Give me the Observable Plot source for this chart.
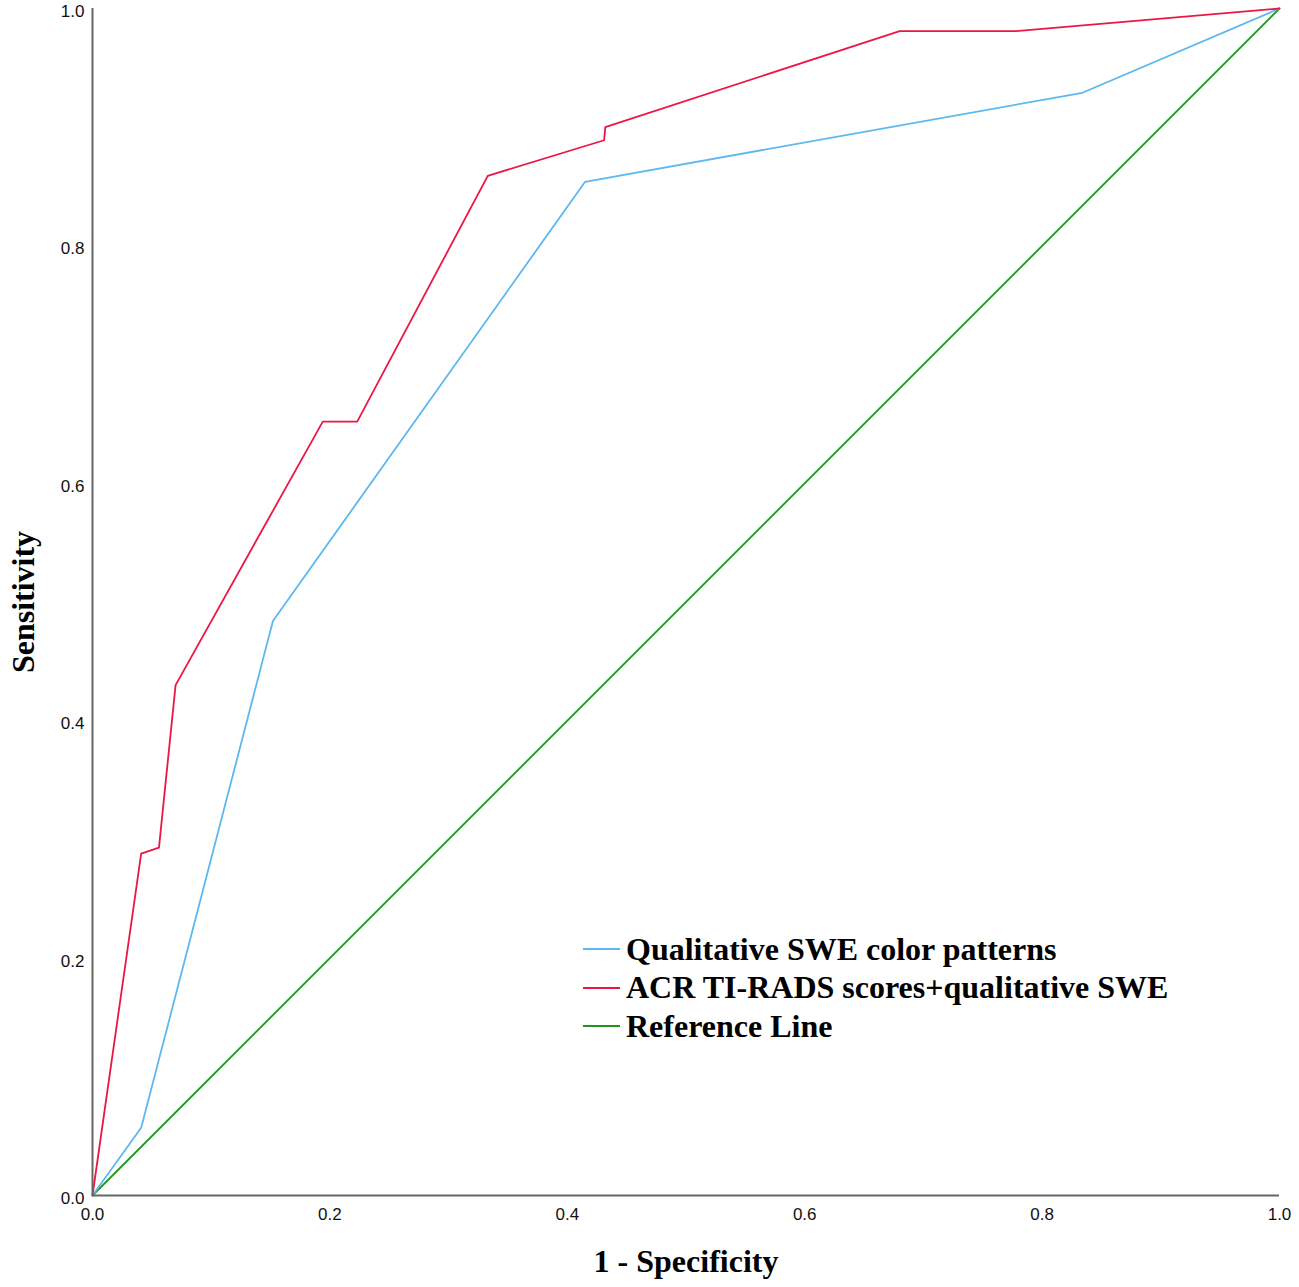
<!DOCTYPE html>
<html>
<head>
<meta charset="utf-8">
<script src="https://cdn.jsdelivr.net/npm/d3@7"></script>
<script src="https://cdn.jsdelivr.net/npm/@observablehq/plot@0.6"></script>
<style>
  html, body { margin: 0; padding: 0; background: #fff; }
  #wrap { position: relative; width: 1299px; height: 1287px; }
  #legend { position: absolute; left: 583px; top: 930px; font-family: "Liberation Serif", "Times New Roman", serif; font-weight: bold; font-size: 32px; color: #000; }
  .row { display: flex; align-items: center; height: 38.5px; white-space: nowrap; }
  .sw { width: 37px; height: 0; border-top: 2px solid; margin-right: 6px; }
</style>
</head>
<body>
<div id="wrap"></div>
<script>
// Series names
const seriesNames = ["Qualitative SWE color patterns", "ACR TI-RADS scores+qualitative SWE", "Reference Line"];
const seriesColors = ["#5db7f0", "#ec1645", "#1e961e"];

// Qualitative SWE color patterns (1 - specificity, sensitivity)
const sweX = [0, 0.041, 0.152, 0.415, 0.834, 1];
const sweY = [0, 0.057, 0.484, 0.854, 0.929, 1];

// ACR TI-RADS + qualitative SWE
const combX = [0, 0.041, 0.056, 0.070, 0.194, 0.223, 0.333, 0.431, 0.432, 0.680, 0.778, 1];
const combY = [0, 0.288, 0.293, 0.430, 0.652, 0.652, 0.859, 0.889, 0.900, 0.981, 0.981, 1];

// Reference line
const refX = [0, 1];
const refY = [0, 1];

const ticks = [0, 0.2, 0.4, 0.6, 0.8, 1.0];
const xTitle = "1 - Specificity";
const yTitle = "Sensitivity";

const toRows = (xs, ys, s) => xs.map((x, i) => ({x, y: ys[i], s}));
const data = [
  ...toRows(refX, refY, seriesNames[2]),
  ...toRows(sweX, sweY, seriesNames[0]),
  ...toRows(combX, combY, seriesNames[1])
];

const serif = "Liberation Serif, Times New Roman, serif";

const chart = Plot.plot({
  width: 1299,
  height: 1287,
  marginLeft: 92,
  marginRight: 20,
  marginTop: 8,
  marginBottom: 92,
  style: { fontFamily: "Liberation Sans, Arial, sans-serif", background: "#fff" },
  x: { domain: [0, 1] },
  y: { domain: [0, 1] },
  color: { domain: seriesNames, range: seriesColors },
  marks: [
    Plot.axisX({ ticks, tickFormat: d3.format(".1f"), tickSize: 0, tickPadding: 12, fontSize: 17, label: null, fill: "#111" }),
    Plot.axisY({ ticks, tickFormat: d3.format(".1f"), tickSize: 0, tickPadding: 8, fontSize: 17, label: null, dy: 3, fill: "#111" }),
    Plot.line(data, { x: "x", y: "y", z: "s", stroke: "s", strokeWidth: 1.8 }),
    Plot.ruleX([0], { stroke: "#666", strokeWidth: 2 }),
    Plot.ruleY([0], { stroke: "#666", strokeWidth: 2 }),
    Plot.text([xTitle], { frameAnchor: "bottom", dy: 76, fontFamily: serif, fontWeight: "bold", fontSize: 32, fill: "#000" }),
    Plot.text([yTitle], { frameAnchor: "left", dx: -69, rotate: -90, textAnchor: "middle", fontFamily: serif, fontWeight: "bold", fontSize: 32, fill: "#000" })
  ]
});

const wrap = document.getElementById("wrap");
wrap.appendChild(chart);

const legend = document.createElement("div");
legend.id = "legend";
seriesNames.forEach((n, i) => {
  const row = document.createElement("div");
  row.className = "row";
  const sw = document.createElement("span");
  sw.className = "sw";
  sw.style.borderColor = seriesColors[i];
  const t = document.createElement("span");
  t.textContent = n;
  row.appendChild(sw);
  row.appendChild(t);
  legend.appendChild(row);
});
wrap.appendChild(legend);
</script>
</body>
</html>
